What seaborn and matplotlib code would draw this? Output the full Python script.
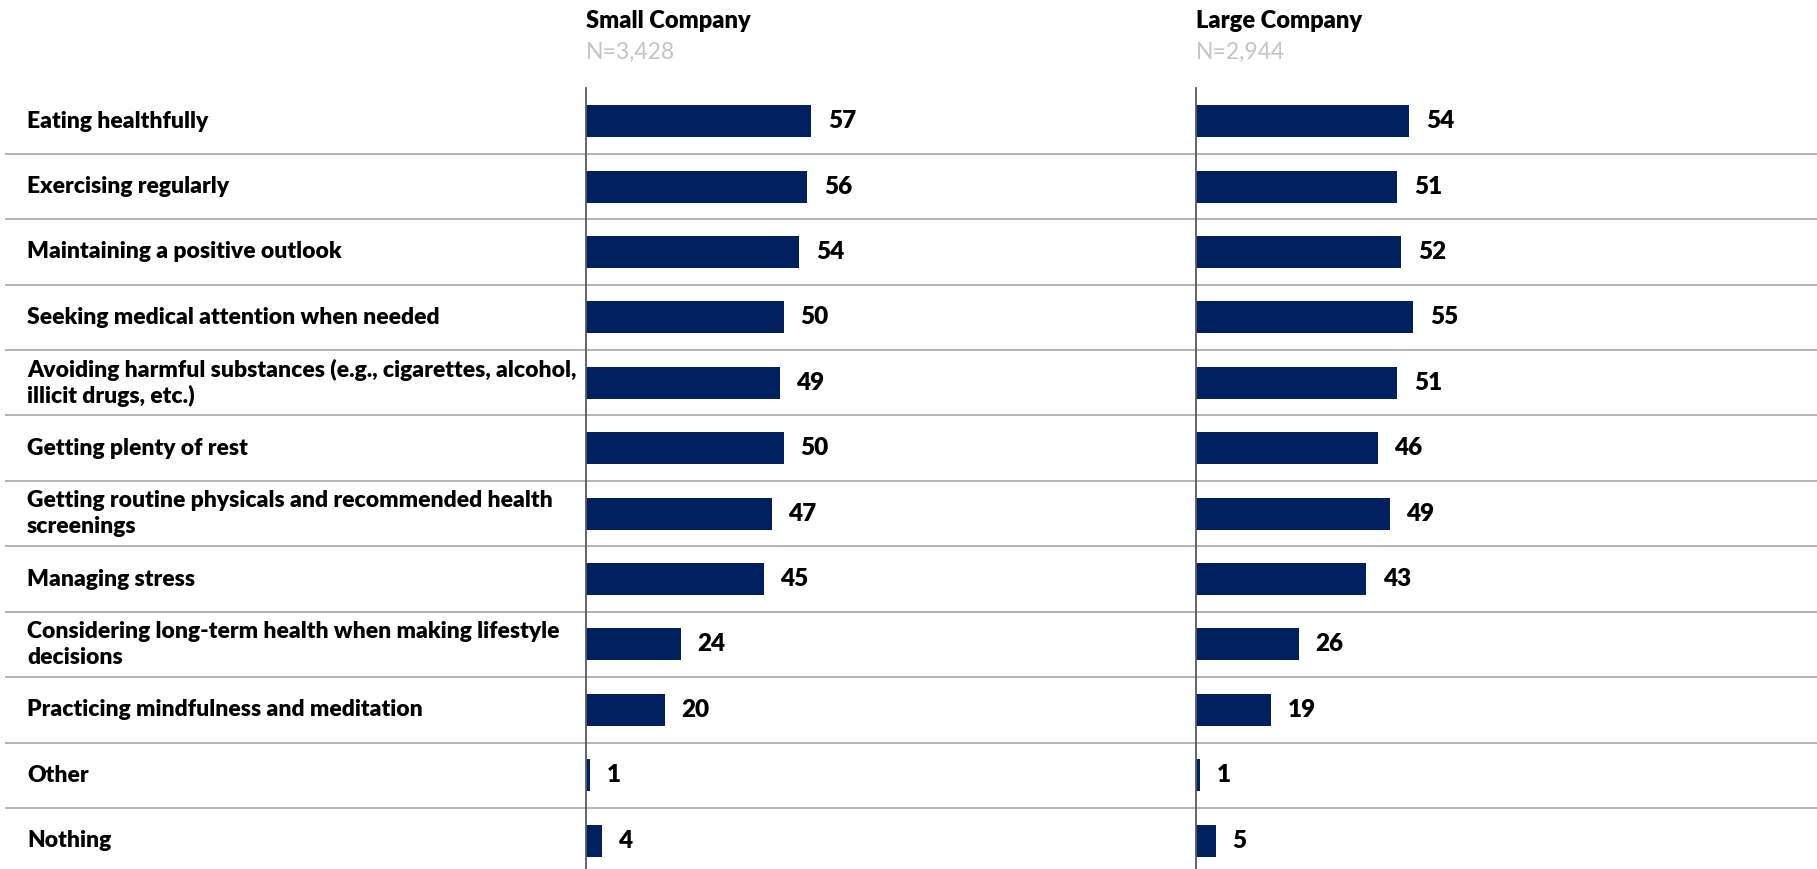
import matplotlib
matplotlib.use("Agg")
import matplotlib.pyplot as plt
import seaborn as sns
import pandas as pd

# Survey results: share of respondents (%) by company size
categories = [
    "Eating healthfully",
    "Exercising regularly",
    "Maintaining a positive outlook",
    "Seeking medical attention when needed",
    "Avoiding harmful substances (e.g., cigarettes, alcohol,\nillicit drugs, etc.)",
    "Getting plenty of rest",
    "Getting routine physicals and recommended health\nscreenings",
    "Managing stress",
    "Considering long-term health when making lifestyle\ndecisions",
    "Practicing mindfulness and meditation",
    "Other",
    "Nothing",
]
small_company = [57, 56, 54, 50, 49, 50, 47, 45, 24, 20, 1, 4]
large_company = [54, 51, 52, 55, 51, 46, 49, 43, 26, 19, 1, 5]
panel_titles = ["Small Company", "Large Company"]
panel_sizes = ["N=3,428", "N=2,944"]

sns.set_theme(style="white")
FONT = "Lato"
plt.rcParams["font.family"] = [FONT, "DejaVu Sans"]

BAR = "#002060"
SEP = "#b3b3b3"
AXIS = "#555b63"
TXT = "#000000"
GREY = "#c4c4c4"
FS = 16.5
WT = "heavy"

W, H = 1817, 869
fig = plt.figure(figsize=(W / 100, H / 100), dpi=100)

top_px = 88.5
row_px = 65.4
n = len(categories)
ax_h = (H - top_px) / H
y_bottom = -0.5 + (H - top_px) / row_px
ylim = (y_bottom, -0.5)

# Background layer: category labels and row separators
bg = fig.add_axes([0, 0, 1, ax_h])
bg.set_xlim(0, 1)
bg.set_ylim(*ylim)
bg.axis("off")
bg.hlines([i + 0.5 for i in range(n - 1)], 5 / W, 1, color=SEP, lw=1.4)
for i, cat in enumerate(categories):
    bg.text(27 / W, i, cat, va="center", ha="left", fontsize=FS,
            fontweight=WT, color=TXT, linespacing=1.25)

df = pd.DataFrame({"category": categories,
                   "Small Company": small_company,
                   "Large Company": large_company})

px_per_unit = 3.95
panel_left = [586, 1196]
panel_w = 420
for col, left, title, nsize in zip(["Small Company", "Large Company"],
                                   panel_left, panel_titles, panel_sizes):
    ax = fig.add_axes([left / W, 0, panel_w / W, ax_h])
    ax.patch.set_alpha(0)
    sns.barplot(data=df, x=col, y="category", orient="h", ax=ax,
                color=BAR, width=0.49, saturation=1, linewidth=0)
    ax.set_xlim(0, panel_w / px_per_unit)
    ax.set_ylim(*ylim)
    ax.set_xlabel("")
    ax.set_ylabel("")
    ax.set_xticks([])
    ax.set_yticks([])
    for s in ["top", "right", "bottom"]:
        ax.spines[s].set_visible(False)
    ax.spines["left"].set_color(AXIS)
    ax.spines["left"].set_linewidth(1.3)
    ax.bar_label(ax.containers[0], fmt="%d", padding=12, fontsize=FS + 1,
                 fontweight=WT, color=TXT)
    ax.text(0, 1 + 67.5 / (H - top_px), title, transform=ax.transAxes,
            ha="left", va="center", fontsize=FS + 0.5, fontweight=WT, color=TXT)
    ax.text(0, 1 + 36 / (H - top_px), nsize, transform=ax.transAxes,
            ha="left", va="center", fontsize=FS, color=GREY)

fig.savefig("out.png", dpi=100)
